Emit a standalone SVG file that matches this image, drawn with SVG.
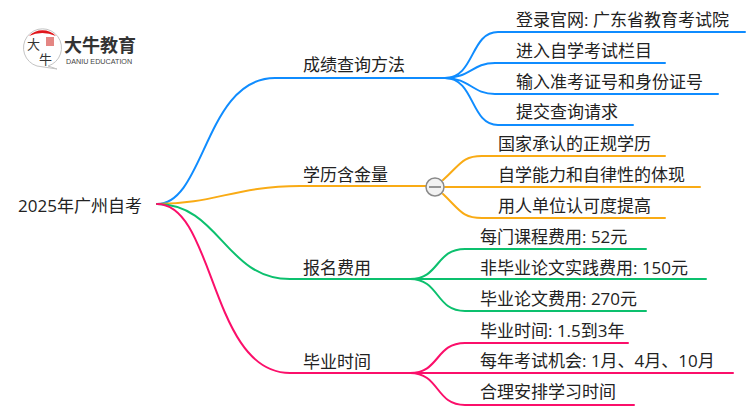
<svg xmlns="http://www.w3.org/2000/svg" width="750" height="410" viewBox="0 0 750 410">
<style>
text{font-family:"Open Sans","Noto Sans CJK SC",sans-serif;fill:#222;font-size:17px}
.c{fill:none;stroke-width:2;stroke-linecap:round}
.b{stroke:#0f8cff}.o{stroke:#f9ab15}.g{stroke:#0cc06e}.r{stroke:#fb0f6a}
</style>
<rect width="750" height="410" fill="#fff"/>
<g id="connectors">
<path class="c b" d="M157 204C205 204 205 78 275 78H445"/>
<path class="c o" d="M157 204C215 204 235 186 300 186H426"/>
<path class="c g" d="M157 204C220 204 225 279 290 279H410"/>
<path class="c r" d="M157 204C215 204 210 373 290 373H410"/>
<path class="c b" d="M445 78C475 78 470 32 498 32H745"/>
<path class="c b" d="M445 78C470 78 472 63 495 63H665"/>
<path class="c b" d="M445 78C470 78 472 94 495 94H718"/>
<path class="c b" d="M445 78C475 78 470 125 498 125H633"/>
<path class="c o" d="M443 180C460 165 462 156 482 156H665"/>
<path class="c o" d="M445 187H700"/>
<path class="c o" d="M443 194C460 210 462 218 482 218H665"/>
<path class="c g" d="M410 279C440 279 435 249 465 249H646"/>
<path class="c g" d="M410 279H706"/>
<path class="c g" d="M410 279C440 279 435 311 465 311H646"/>
<path class="c r" d="M410 373C440 373 435 343 465 343H628"/>
<path class="c r" d="M410 373H733"/>
<path class="c r" d="M410 373C440 373 435 405 465 405H634"/>
</g>
<g id="logo">
<path d="M37 66A19 19 0 1 1 48 66L57 69Z" fill="#fff" stroke="#c4c4c4" stroke-width="1"/>
<path d="M29 36A19 19 0 0 1 56 36Q42 30 29 36Z" fill="#e0161b"/>
<rect x="46" y="37" width="8" height="9" fill="#d9534f" opacity="0.7"/>
<text x="27" y="49" style="font-family:'Noto Sans CJK SC',sans-serif;font-size:13px;fill:#333">大</text>
<text x="39" y="64" style="font-family:'Noto Sans CJK SC',sans-serif;font-size:13px;fill:#333">牛</text>
<text x="64" y="52" style="font-family:'Noto Sans CJK SC',sans-serif;font-size:18px;font-weight:700;fill:#333">大牛教育</text>
<text x="66" y="63.500" style="font-family:'Liberation Sans',sans-serif;font-size:7.200px;fill:#444">DANIU EDUCATION</text>
</g>
<g id="root"><text x="18" y="212">2025年广州自考</text></g>
<g id="n1"><text x="303" y="71">成绩查询方法</text></g>
<g id="n2"><text x="303" y="181">学历含金量</text></g>
<g id="n3"><text x="303" y="274">报名费用</text></g>
<g id="n4"><text x="303" y="368">毕业时间</text></g>
<g id="n1a"><text x="516" y="26">登录官网: 广东省教育考试院</text></g>
<g id="n1b"><text x="516" y="57">进入自学考试栏目</text></g>
<g id="n1c"><text x="516" y="88">输入准考证号和身份证号</text></g>
<g id="n1d"><text x="516" y="118">提交查询请求</text></g>
<g id="n2a"><text x="498" y="150">国家承认的正规学历</text></g>
<g id="n2b"><text x="498" y="181">自学能力和自律性的体现</text></g>
<g id="n2c"><text x="498" y="212">用人单位认可度提高</text></g>
<g id="n3a"><text x="480" y="243">每门课程费用: 52元</text></g>
<g id="n3b"><text x="480" y="274">非毕业论文实践费用: 150元</text></g>
<g id="n3c"><text x="480" y="305">毕业论文费用: 270元</text></g>
<g id="n4a"><text x="480" y="337">毕业时间: 1.5到3年</text></g>
<g id="n4b"><text x="480" y="367">每年考试机会: 1月、4月、10月</text></g>
<g id="n4c"><text x="480" y="398">合理安排学习时间</text></g>
<g id="collapse"><circle cx="435" cy="187" r="9" fill="#f2f2f2" stroke="#8a8a8a" stroke-width="1.500"/><path d="M429 187H441" stroke="#777" stroke-width="1.500"/></g>
</svg>
